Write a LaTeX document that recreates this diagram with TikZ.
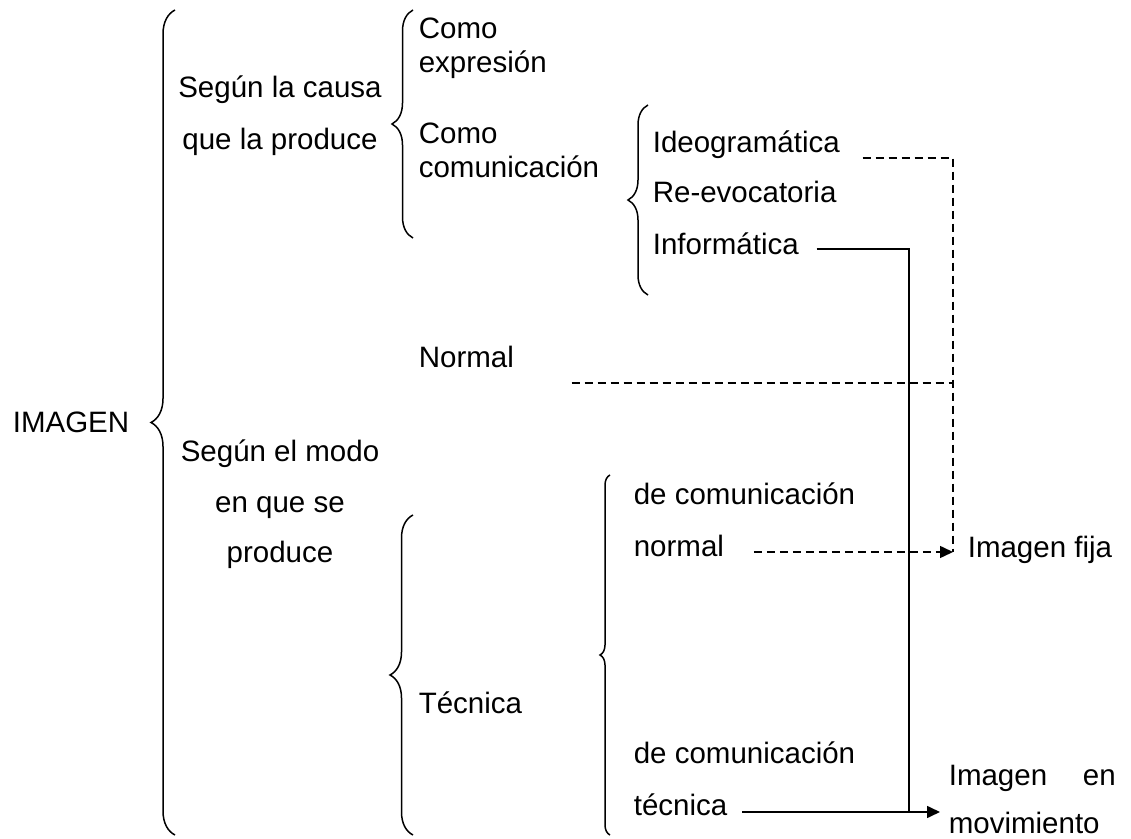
\documentclass[tikz,border=0pt]{standalone}
\usepackage{fontspec}
\setmainfont{Liberation Sans}
\usetikzlibrary{arrows.meta,decorations.pathreplacing}

\tikzset{
  txt/.style={inner sep=0pt, anchor=base west, align=left, font=\fontsize{14.75}{26}\selectfont},
  ctxt/.style={txt, anchor=base, align=center},
  tight/.style={font=\fontsize{14.75}{17}\selectfont},
  curly/.style={decorate, decoration={brace, amplitude=#1}, line width=0.75pt},
  dashline/.style={dash pattern=on 4pt off 2.5pt, line width=0.75pt},
  tip/.style={-{Triangle[length=6.5pt,width=6pt]}}
}

\begin{document}
\begin{tikzpicture}[x=0.5pt, y=-0.5pt, line width=0.8pt]
\useasboundingbox (0,0) rectangle (1131,839);
\draw[curly=12pt] (175,835) -- (175,10);
\draw[curly=10.5pt] (413,238) -- (413,10);
\draw[curly=10pt] (648,295) -- (648,105);
\draw[curly=11.5pt] (413,835) -- (413,515);
\draw[curly=5pt] (610,835) -- (610,475);
\node[txt] (imagen) at (12,433) {IMAGEN};
\node[ctxt] (causa) at (280,150) {Según la causa\\que la produce};
\node[ctxt, font=\fontsize{14.75}{25.25}\selectfont] (modo) at (280,563) {Según el modo\\en que se\\produce};
\node[txt, tight] (expresion) at (418,73) {Como\\expresión};
\node[txt, tight] (comunic) at (418,178) {Como\\comunicación};
\node[txt] (ideo) at (652,153) {Ideogramática};
\node[txt] (reevo) at (652,203) {Re-evocatoria};
\node[txt] (infor) at (652,255) {Informática};
\node[txt] (normal) at (418,368) {Normal};
\node[txt] (tecnica) at (418,713) {Técnica};
\node[txt] (decomA) at (633,505) {de comunicación};
\node[txt] (normA) at (633,557) {normal};
\node[txt] (decomB) at (633,763) {de comunicación};
\node[txt] (tecB) at (633,815) {técnica};
\node[txt] (fija) at (967,558) {Imagen fija};
\node[txt, font=\fontsize{14.75}{24.5}\selectfont] (movim) at (948,834) {\makebox[83.5pt][s]{Imagen en}\\movimiento};
\coordinate (solidx) at (909,0);
\draw[dashline, tip] ([xshift=14.5pt,yshift=2.5pt]normA.base east) coordinate (n2) -- ([xshift=-7pt]n2 -| fija.west) coordinate (ftip);
\draw[dashline] ([xshift=11pt,yshift=-2.5pt]ideo.base east) -| (ftip);
\draw[dashline] ([xshift=28.5pt,yshift=-7.5pt]normal.base east) coordinate (n0) -- (n0 -| ftip);
\draw[tip] ([xshift=7pt,yshift=1.5pt]tecB.base east) coordinate (t0) -- ([xshift=-4pt]t0 -| movim.west);
\draw ([xshift=8.5pt,yshift=3pt]infor.base east) -| (solidx |- t0);
\end{tikzpicture}
\end{document}
